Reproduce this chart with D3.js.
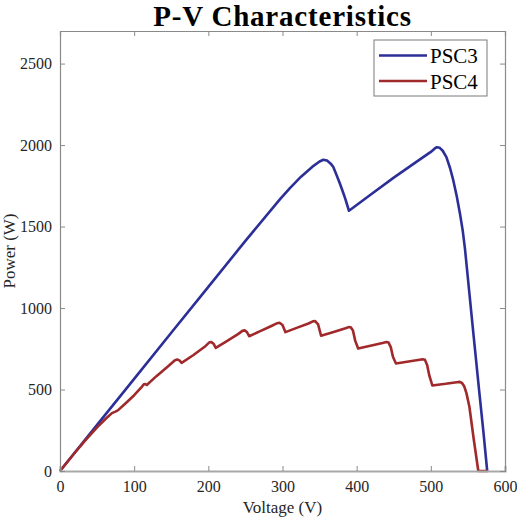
<!DOCTYPE html>
<html>
<head>
<meta charset="utf-8">
<script src="https://cdn.jsdelivr.net/npm/d3@7"></script>
<style>
  body { margin: 0; background: #fff; }
  svg text { font-family: 'Liberation Serif', 'Times New Roman', serif; fill: #262626; }
</style>
</head>
<body>
<div id="chart"></div>
<script>
const W = 517, H = 519;
const margin = { t: 31, r: 12, b: 48, l: 60 };

const seriesNames = ['PSC3', 'PSC4'];
const seriesColors = ['#2c2f97', '#a0292c'];

// PSC3 : [voltage, power]
const psc3 = [
  [0, 0], [50, 283], [100, 565], [150, 848], [200, 1130], [250, 1412], [297, 1670],
  [310, 1736], [325, 1806], [340, 1866], [350, 1899], [355, 1910], [360, 1905],
  [365, 1886], [368.5, 1865], [373, 1815], [377.5, 1763], [381, 1718], [384.6, 1671],
  [389.6, 1597], [420, 1700], [450, 1800], [480, 1895], [500, 1958], [505, 1978],
  [508, 1987], [512, 1983], [516, 1965], [521, 1926], [526, 1858], [530.3, 1783],
  [535, 1685], [539.3, 1579], [543, 1475], [546, 1365], [552, 1090], [558, 815],
  [565, 500], [571, 235], [576, 0]
];

// PSC4 : [voltage, power]
const psc4 = [
  [0, 0], [20, 112], [35, 192], [50, 268], [62, 322], [70, 355], [74, 363], [78, 372],
  [90, 422], [100, 465], [110, 515], [113, 532], [115, 533], [117, 528], [130, 582],
  [145, 640], [155, 680], [158, 684], [161, 679], [164, 664], [180, 712], [195, 762],
  [201, 788], [204, 791], [207, 781], [210, 756], [225, 797], [240, 840], [246, 860],
  [249, 863], [252, 853], [255, 827], [270, 858], [285, 890], [293, 907], [296, 910],
  [300, 896], [304, 852], [320, 880], [335, 905], [341, 918], [344, 920], [348, 900],
  [352, 830], [370, 855], [385, 876], [389, 883], [392, 882], [395, 862], [398, 800],
  [402, 752], [420, 770], [435, 786], [440, 792], [443, 788], [446, 760], [449, 700],
  [453, 660], [470, 672], [485, 683], [489, 686], [492, 682], [495, 650], [498, 585],
  [502, 525], [520, 535], [535, 545], [539, 547], [542, 540], [545, 520], [548, 478],
  [552, 394], [558, 190], [564, 0], [577, 0]
];

const xTicks = [0, 100, 200, 300, 400, 500, 600];
const yTicks = [0, 500, 1000, 1500, 2000, 2500];

const iw = W - margin.l - margin.r;
const ih = H - margin.t - margin.b;

const x = d3.scaleLinear().domain([0, 600]).range([0, iw]);
const y = d3.scaleLinear().domain([0, 2700]).range([ih, 0]);

const svg = d3.select('#chart').append('svg')
  .attr('width', W)
  .attr('height', H);

const g = svg.append('g')
  .attr('transform', `translate(${margin.l}, ${margin.t})`);

// lines
const line = d3.line()
  .x(d => x(d[0]))
  .y(d => y(d[1]));

[psc3, psc4].forEach((data, i) => {
  g.append('path')
    .datum(data)
    .attr('fill', 'none')
    .attr('stroke', seriesColors[i])
    .attr('stroke-width', 2.6)
    .attr('stroke-linejoin', 'round')
    .attr('d', line);
});

// axes (MATLAB style box, ticks inside)
const axisColor = '#8a8a8a';
const fmt = d3.format('d');
const xAxis = d3.axisBottom(x).tickValues(xTicks).tickSize(-5).tickPadding(10).tickFormat(fmt);
const yAxis = d3.axisLeft(y).tickValues(yTicks).tickSize(-5).tickPadding(8).tickFormat(fmt);

const gx = g.append('g')
  .attr('transform', `translate(0, ${ih})`)
  .call(xAxis);
const gy = g.append('g').call(yAxis);

const gxTop = g.append('g')
  .call(d3.axisTop(x).tickValues(xTicks).tickSize(-5).tickFormat(''));
const gyRight = g.append('g')
  .attr('transform', `translate(${iw}, 0)`)
  .call(d3.axisRight(y).tickValues(yTicks).tickSize(-5).tickFormat(''));

[gx, gy, gxTop, gyRight].forEach(a => {
  a.select('.domain').attr('stroke', axisColor).attr('stroke-width', 1.2);
  a.selectAll('.tick line').attr('stroke', axisColor);
  a.selectAll('.tick text')
    .style('font-size', '16px')
    .attr('fill', '#262626');
});
gx.select('.domain').attr('stroke', '#a8a8a8').attr('stroke-width', 2);

// titles
svg.append('text')
  .attr('x', margin.l + iw / 2)
  .attr('y', 25.5)
  .attr('text-anchor', 'middle')
  .style('font-size', '29px')
  .style('font-weight', 'bold')
  .style('letter-spacing', '0.8px')
  .style('fill', '#000')
  .text('P-V Characteristics');

svg.append('text')
  .attr('x', margin.l + iw / 2)
  .attr('y', 513)
  .attr('text-anchor', 'middle')
  .style('font-size', '17px')
  .text('Voltage (V)');

svg.append('text')
  .attr('transform', `translate(15, ${margin.t + ih / 2}) rotate(-90)`)
  .attr('text-anchor', 'middle')
  .style('font-size', '17px')
  .text('Power (W)');

// legend
const legend = svg.append('g')
  .attr('transform', 'translate(374, 40)');

legend.append('rect')
  .attr('width', 113)
  .attr('height', 56)
  .attr('fill', '#fff')
  .attr('stroke', '#7a7a7a')
  .attr('stroke-width', 1);

seriesNames.forEach((name, i) => {
  const ly = 15.5 + i * 25.5;
  legend.append('line')
    .attr('x1', 5).attr('x2', 53)
    .attr('y1', ly).attr('y2', ly)
    .attr('stroke', seriesColors[i])
    .attr('stroke-width', 2.6);
  legend.append('text')
    .attr('x', 56)
    .attr('y', ly + 7.5)
    .style('font-size', '21px')
    .style('fill', '#000')
    .text(name);
});
</script>
</body>
</html>
